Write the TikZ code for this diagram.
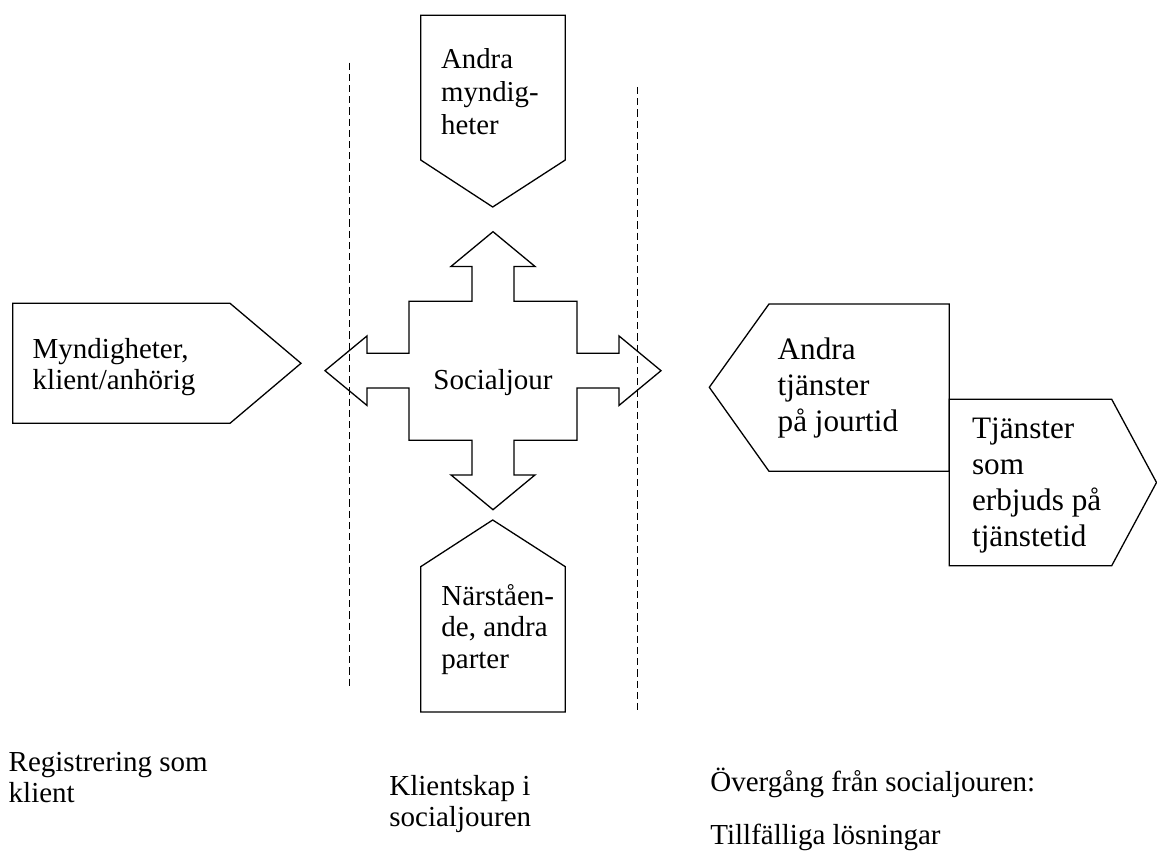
\documentclass[tikz,border=0pt]{standalone}
\usepackage{fontspec}
\setmainfont{Liberation Serif}
\begin{document}
\begin{tikzpicture}[x=0.5pt,y=-0.5pt,
		pil/.style={draw=black, line width=0.65pt, line join=miter},
		streck/.style={draw=black, line width=0.5pt, dash pattern=on 3.6pt off 2pt},
		txt/.style={anchor=base west, align=left, inner sep=0pt, font=\fontsize{14.5}{15.8}\selectfont},
		stortxt/.style={txt, font=\fontsize{15.6}{18.1}\selectfont}]
	\useasboundingbox (0,0) rectangle (1157,854);
	% streckade gränser
	\coordinate (v1) at (349,62.7);  \coordinate (v2) at (349,687);
	\coordinate (h1) at (637.3,87);  \coordinate (h2) at (637.3,712);
	\draw[streck] (v1) -- (v2);
	\draw[streck] (h1) -- (h2);
	% pilformade rutor
	\draw[pil] (420.7,15.3) -- (565.3,15.3) -- (565.3,160) -- (492.7,207) -- (420.7,160) -- cycle;
	\draw[pil] (492.7,520) -- (565.3,566.7) -- (565.3,712) -- (420.7,712) -- (420.7,566.7) -- cycle;
	\draw[pil] (12.7,303.3) -- (230,303.3) -- (301,363.3) -- (230,423.3) -- (12.7,423.3) -- cycle;
	\draw[pil] (709.3,387.3) -- (769,304) -- (949.3,304) -- (949.3,471.3) -- (769,471.3) -- cycle;
	\draw[pil] (949.3,399.3) -- (1111.7,399.3) -- (1156.5,482.5) -- (1111.7,565.7) -- (949.3,565.7) -- cycle;
	% korset
	\begin{scope}[shift={(493,370.7)}, xscale=168, yscale=139]
		\draw[pil] (0,-1) -- (0.25,-0.75) -- (0.125,-0.75) -- (0.125,-0.5) -- (0.5,-0.5) -- (0.5,-0.125)
			-- (0.75,-0.125) -- (0.75,-0.25) -- (1,0) -- (0.75,0.25) -- (0.75,0.125) -- (0.5,0.125)
			-- (0.5,0.5) -- (0.125,0.5) -- (0.125,0.75) -- (0.25,0.75) -- (0,1) -- (-0.25,0.75)
			-- (-0.125,0.75) -- (-0.125,0.5) -- (-0.5,0.5) -- (-0.5,0.125) -- (-0.75,0.125) -- (-0.75,0.25)
			-- (-1,0) -- (-0.75,-0.25) -- (-0.75,-0.125) -- (-0.5,-0.125) -- (-0.5,-0.5) -- (-0.125,-0.5)
			-- (-0.125,-0.75) -- (-0.25,-0.75) -- cycle;
	\end{scope}
	% texter (base = sista radens baslinje)
	\node[txt, font=\fontsize{14.4}{16.65}\selectfont] (andra) at (440.7,135) {Andra\\myndig-\\heter};
	\node[txt, anchor=base] (jour) at (493,389.3) {Socialjour};
	\node[txt] (narst) at (441,668.3) {Närståen-\\de, andra\\parter};
	\node[txt] (myndig) at (32.3,390) {Myndigheter,\\klient/anhörig};
	\node[stortxt] (tjanst) at (777.3,431.7) {Andra\\tjänster\\på jourtid};
	\node[stortxt] (tjtid) at (971.7,546.7) {Tjänster\\som\\erbjuds på\\tjänstetid};
	\node[txt] (reg) at (8.3,803) {Registrering som\\klient};
	\node[txt] (klient) at (389,827) {Klientskap i\\socialjouren};
	\node[txt] (overg) at (710,792) {Övergång från socialjouren:};
	\node[txt] (tillf) at (710,845) {Tillfälliga lösningar};
\end{tikzpicture}
\end{document}
